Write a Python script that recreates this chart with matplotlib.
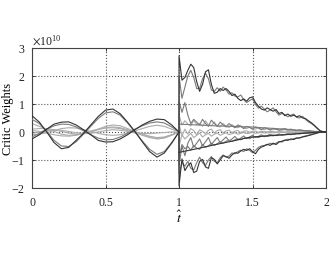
import numpy as np
import matplotlib
matplotlib.use("Agg")
import matplotlib.pyplot as plt
from matplotlib.ticker import ScalarFormatter

plt.rcParams['font.family'] = ['Liberation Serif', 'DejaVu Serif']
plt.rcParams['mathtext.fontset'] = 'stix'
plt.rcParams['axes.unicode_minus'] = False

SCALE = 1e10

# ---- phase 1 : t = 0 .. 1 (step 0.05) ----
T1 = np.linspace(0.0, 1.0, 21)
p1_A = [0.58, 0.35, 0.00, -0.38, -0.60, -0.55, -0.30, -0.05, 0.25, 0.55, 0.78,
        0.82, 0.65, 0.35, 0.02, -0.35, -0.70, -0.90, -0.75, -0.40, 0.00]
p1_A2 = [0.45, 0.30, 0.02, -0.30, -0.50, -0.52, -0.35, -0.08, 0.20, 0.48, 0.68,
         0.72, 0.60, 0.32, 0.00, -0.32, -0.62, -0.80, -0.70, -0.38, 0.00]
p1_B = [-0.25, -0.10, 0.10, 0.28, 0.35, 0.36, 0.25, 0.08, -0.10, -0.30, -0.36,
        -0.35, -0.25, -0.10, 0.08, 0.25, 0.38, 0.46, 0.44, 0.25, 0.00]
p1_B2 = [-0.18, -0.05, 0.10, 0.22, 0.28, 0.27, 0.18, 0.04, -0.10, -0.22, -0.28,
         -0.27, -0.18, -0.05, 0.10, 0.22, 0.32, 0.36, 0.32, 0.18, 0.00]
p1_C1 = [0.10, 0.12, 0.12, 0.08, 0.02, -0.04, -0.08, -0.06, 0.00, 0.08, 0.15,
         0.18, 0.15, 0.08, 0.00, -0.08, -0.15, -0.20, -0.18, -0.10, 0.00]
p1_C2 = [-0.10, -0.08, -0.02, 0.05, 0.12, 0.15, 0.14, 0.08, 0.02, -0.05, -0.10,
         -0.12, -0.10, -0.04, 0.04, 0.12, 0.20, 0.24, 0.20, 0.10, 0.00]
p1_C3 = [0.30, 0.20, 0.10, 0.02, -0.08, -0.12, -0.10, -0.05, 0.02, 0.10, 0.20,
         0.25, 0.22, 0.12, 0.02, -0.08, -0.18, -0.25, -0.22, -0.12, 0.00]
p1_C4 = [-0.05, 0.00, 0.05, 0.08, 0.06, 0.02, -0.03, -0.06, -0.05, 0.00, 0.05,
         0.08, 0.06, 0.02, -0.02, -0.05, -0.06, -0.04, -0.02, 0.00, 0.00]
p1_C5 = [0.05, 0.02, -0.04, -0.10, -0.14, -0.15, -0.12, -0.05, 0.03, 0.10, 0.14,
         0.15, 0.12, 0.05, -0.04, -0.12, -0.20, -0.24, -0.20, -0.10, 0.00]

# ---- phase 2 : t = 1 .. 2 (leading 1.0 then step 0.02) ----
T2 = np.concatenate([[1.0], np.linspace(1.0, 2.0, 51)])
p2_U1 = [0.0,
         2.72, 1.85, 1.95, 2.20, 2.42, 2.30, 1.80, 1.45, 1.70, 2.15,
         2.22, 1.70, 1.38, 1.42, 1.55, 1.48, 1.55, 1.45, 1.30, 1.35,
         1.20, 1.12, 1.18, 1.10, 1.22, 1.25, 1.05, 0.92, 0.82, 0.78,
         0.86, 0.80, 0.74, 0.80, 0.66, 0.70, 0.58, 0.64, 0.56, 0.60,
         0.54, 0.58, 0.50, 0.48, 0.40, 0.33, 0.24, 0.14, 0.04, 0.01,
         0.00]
p2_U2 = [0.0,
         2.00, 1.20, 1.60, 2.00, 2.20, 1.95, 1.55, 1.55, 1.90, 2.10,
         1.90, 1.50, 1.45, 1.58, 1.45, 1.60, 1.50, 1.35, 1.40, 1.28,
         1.25, 1.32, 1.15, 1.05, 1.12, 1.18, 0.98, 0.85, 0.92, 0.82,
         0.72, 0.78, 0.86, 0.72, 0.60, 0.66, 0.62, 0.54, 0.60, 0.64,
         0.52, 0.50, 0.56, 0.45, 0.36, 0.30, 0.22, 0.12, 0.04, 0.01,
         0.00]
p2_L1 = [0.0,
         -1.93, -0.96, -1.38, -1.20, -1.10, -1.45, -1.40, -1.05, -0.98, -1.25,
         -1.30, -0.92, -0.98, -1.14, -1.00, -0.85, -0.88, -0.94, -0.82, -0.74,
         -0.76, -0.68, -0.62, -0.66, -0.60, -0.70, -0.78, -0.62, -0.54, -0.50,
         -0.44, -0.48, -0.40, -0.45, -0.36, -0.33, -0.29, -0.30, -0.25, -0.27,
         -0.22, -0.21, -0.18, -0.16, -0.13, -0.10, -0.07, -0.04, -0.01, 0.00,
         0.00]
p2_L2 = [0.0,
         -1.50, -1.10, -1.22, -1.05, -1.30, -1.36, -1.10, -0.90, -1.10, -1.20,
         -1.00, -0.88, -1.05, -1.10, -0.92, -0.82, -0.90, -0.86, -0.75, -0.78,
         -0.70, -0.65, -0.70, -0.60, -0.66, -0.74, -0.66, -0.55, -0.50, -0.48,
         -0.46, -0.40, -0.44, -0.40, -0.34, -0.36, -0.30, -0.26, -0.28, -0.24,
         -0.21, -0.22, -0.17, -0.14, -0.12, -0.09, -0.06, -0.03, -0.01, 0.00,
         0.00]
p2_M1 = [0.0,
         1.10, 0.70, 1.05, 0.60, 0.30, 0.45, 0.35, 0.25, 0.45, 0.30,
         0.20, 0.42, 0.30, 0.20, 0.35, 0.25, 0.18, 0.30, 0.22, 0.15,
         0.25, 0.20, 0.12, 0.20, 0.16, 0.10, 0.18, 0.14, 0.08, 0.15,
         0.12, 0.07, 0.13, 0.10, 0.06, 0.10, 0.12, 0.08, 0.10, 0.07,
         0.05, 0.08, 0.06, 0.04, 0.05, 0.03, 0.02, 0.02, 0.01, 0.00,
         0.00]
p2_M2 = [0.0,
         -1.20, -0.50, -0.85, -0.40, -0.20, -0.55, -0.40, -0.25, -0.50, -0.35,
         -0.20, -0.45, -0.32, -0.20, -0.38, -0.28, -0.18, -0.32, -0.25, -0.16,
         -0.28, -0.22, -0.14, -0.24, -0.18, -0.12, -0.20, -0.16, -0.10, -0.17,
         -0.13, -0.08, -0.14, -0.11, -0.07, -0.12, -0.09, -0.06, -0.10, -0.07,
         -0.05, -0.07, -0.05, -0.04, -0.04, -0.03, -0.02, -0.01, -0.01, 0.00,
         0.00]
p2_M3 = [0.0,
         -0.90, -0.45, -0.60, -0.52, -0.65, -0.48, -0.58, -0.62, -0.45, -0.55,
         -0.50, -0.40, -0.48, -0.42, -0.35, -0.40, -0.33, -0.30, -0.34, -0.28,
         -0.25, -0.28, -0.22, -0.20, -0.24, -0.18, -0.17, -0.20, -0.15, -0.14,
         -0.16, -0.12, -0.11, -0.13, -0.10, -0.09, -0.10, -0.08, -0.07, -0.08,
         -0.06, -0.05, -0.05, -0.04, -0.03, -0.03, -0.02, -0.01, -0.01, 0.00,
         0.00]
p2_M4 = [0.0,
         0.60, 0.25, 0.40, 0.28, 0.22, 0.42, 0.26, 0.30, 0.20, 0.40,
         0.25, 0.22, 0.36, 0.20, 0.18, 0.30, 0.20, 0.16, 0.26, 0.18,
         0.15, 0.22, 0.14, 0.12, 0.18, 0.12, 0.10, 0.16, 0.10, 0.09,
         0.12, 0.08, 0.08, 0.10, 0.07, 0.06, 0.08, 0.05, 0.05, 0.06,
         0.04, 0.04, 0.03, 0.03, 0.02, 0.02, 0.01, 0.01, 0.00, 0.00,
         0.00]
p2_M5 = [0.0,
         0.30, -0.15, 0.10, -0.08, 0.12, 0.05, -0.10, 0.08, 0.02, -0.06,
         0.06, 0.10, -0.04, 0.05, 0.08, -0.03, 0.04, 0.06, -0.02, 0.03,
         0.05, -0.02, 0.03, 0.04, -0.01, 0.03, 0.03, -0.01, 0.02, 0.02,
         0.00, 0.02, 0.01, 0.00, 0.01, 0.01, 0.00, 0.01, 0.00, 0.00,
         0.00, 0.00, 0.00, 0.00, 0.00, 0.00, 0.00, 0.00, 0.00, 0.00,
         0.00]
p2_M6 = [0.0,
         -0.50, -0.10, -0.25, -0.15, -0.05, -0.20, -0.12, -0.04, -0.18, -0.10,
         -0.05, -0.15, -0.08, -0.04, -0.12, -0.07, -0.03, -0.10, -0.06, -0.03,
         -0.08, -0.05, -0.02, -0.06, -0.04, -0.02, -0.05, -0.03, -0.02, -0.04,
         -0.03, -0.02, -0.03, -0.02, -0.01, -0.02, -0.02, -0.01, -0.01, -0.01,
         -0.01, -0.01, -0.01, 0.00, 0.00, 0.00, 0.00, 0.00, 0.00, 0.00,
         0.00]

# smooth decaying lines in phase 2
TD = [1.0, 1.12, 1.24, 1.36, 1.48, 1.60, 1.72, 1.84, 1.96, 2.0]
p2_D1 = [-0.73, -0.60, -0.46, -0.33, -0.19, -0.14, -0.10, -0.05, 0.00, 0.00]
p2_D2 = [0.28, 0.25, 0.22, 0.20, 0.18, 0.14, 0.10, 0.05, 0.00, 0.00]

x_ticks = [0, 0.5, 1, 1.5, 2]
x_ticklabels = ['0', '0.5', '1', '1.5', '2']
y_ticks = [-2, -1, 0, 1, 2, 3]

DARK = '#333333'
MID = '#7a7a7a'
LIGHT = '#ababab'

fig = plt.figure(figsize=(3.3, 2.55), dpi=100)
ax = fig.add_axes([0.097, 0.259, 0.891, 0.549])

def line(t, v, c, lw=0.8, z=2):
    ax.plot(t, np.asarray(v) * SCALE, color=c, lw=lw, zorder=z)

# phase 1
for v in (p1_C1, p1_C2, p1_C3, p1_C4, p1_C5):
    line(T1, v, LIGHT, z=2)
line(T1, p1_B2, MID, z=3)
line(T1, p1_A2, MID, z=3)
line(T1, p1_B, DARK, z=4)
line(T1, p1_A, DARK, z=4)

# phase 2
for v in (p2_M4, p2_M5, p2_M6):
    line(T2, v, LIGHT, z=2)
for v in (p2_M1, p2_M2, p2_M3, p2_U2, p2_L2):
    line(T2, v, MID, z=3)
line(TD, p2_D2, MID, z=3)
line(TD, p2_D1, DARK, z=4)
line(T2, p2_U1, DARK, z=4)
line(T2, p2_L1, DARK, z=4)

ax.set_xlim(0, 2)
ax.set_ylim(-2 * SCALE, 3 * SCALE)
ax.set_xticks(x_ticks)
ax.set_xticklabels(x_ticklabels)
ax.set_yticks([y * SCALE for y in y_ticks])
fmt = ScalarFormatter(useMathText=True)
fmt.set_powerlimits((0, 0))
ax.yaxis.set_major_formatter(fmt)

ax.grid(True, linestyle=':', color='#555555', linewidth=0.8)
ax.tick_params(direction='in', length=2.5, labelsize=8.5, width=0.6,
               top=True, right=True, colors='#222222')
ax.tick_params(axis='x', pad=6)
ax.tick_params(axis='y', pad=5)
for s in ax.spines.values():
    s.set_linewidth(0.8)
    s.set_color('#444444')
ax.yaxis.get_offset_text().set_fontsize(8.5)

ax.set_ylabel('Critic Weights', fontsize=9)
ax.yaxis.set_label_coords(-0.062, 0.5)
ax.set_xlabel(r'$\hat{t}$', fontsize=10, labelpad=0)

fig.savefig('out.png', dpi=100)
